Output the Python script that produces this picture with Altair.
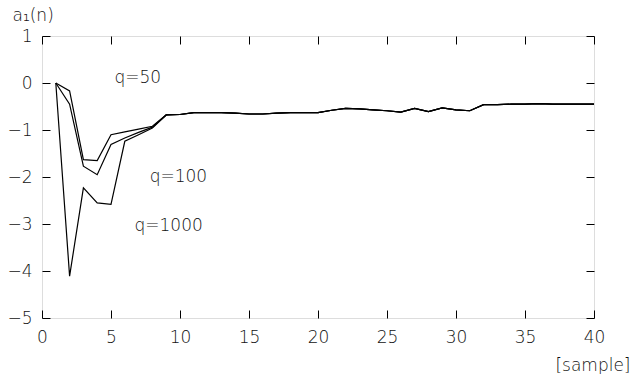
import altair as alt
import pandas as pd

samples = list(range(1, 41))

q50 = [0.00, -0.17, -1.63, -1.65, -1.10, -1.04, -0.98, -0.92,
       -0.68, -0.67, -0.63, -0.63, -0.63, -0.64, -0.66, -0.66, -0.64, -0.63, -0.63, -0.63,
       -0.58, -0.54, -0.55, -0.57, -0.59, -0.62, -0.54, -0.61, -0.53, -0.57,
       -0.59, -0.46, -0.46, -0.45, -0.45, -0.44, -0.45, -0.45, -0.45, -0.45]
q100 = [0.00, -0.45, -1.77, -1.95, -1.31, -1.17, -1.05, -0.94,
        -0.68, -0.67, -0.63, -0.63, -0.63, -0.64, -0.66, -0.66, -0.64, -0.63, -0.63, -0.63,
        -0.58, -0.54, -0.55, -0.57, -0.59, -0.62, -0.54, -0.61, -0.53, -0.57,
        -0.59, -0.46, -0.46, -0.45, -0.45, -0.44, -0.45, -0.45, -0.45, -0.45]
q1000 = [0.00, -4.11, -2.23, -2.55, -2.58, -1.24, -1.10, -0.96,
         -0.68, -0.67, -0.63, -0.63, -0.63, -0.64, -0.66, -0.66, -0.64, -0.63, -0.63, -0.63,
         -0.58, -0.54, -0.55, -0.57, -0.59, -0.62, -0.54, -0.61, -0.53, -0.57,
         -0.59, -0.46, -0.46, -0.45, -0.45, -0.44, -0.45, -0.45, -0.45, -0.45]

x_ticks = [0, 5, 10, 15, 20, 25, 30, 35, 40]
y_ticks = [-5, -4, -3, -2, -1, 0, 1]

label_texts = ["q=50", "q=100", "q=1000"]
label_x = [5.25, 7.8, 6.7]
label_y = [0.10, -1.99, -3.05]

rows = []
for name, vals in [("q=50", q50), ("q=100", q100), ("q=1000", q1000)]:
    for n, v in zip(samples, vals):
        rows.append({"n": n, "a": v, "q": name})
df = pd.DataFrame(rows)
labels = pd.DataFrame({"t": label_texts, "n": label_x, "a": label_y})

FONT = "DejaVu Sans"
FW = 200
W, H = 552, 282

xscale = alt.Scale(domain=[0, 40], nice=False, zero=False)
yscale = alt.Scale(domain=[-5, 1], nice=False, zero=False)

xaxis = alt.Axis(
    values=x_ticks, title="[sample]", domain=False, ticks=False,
    labelFontSize=17, labelFont=FONT, labelFontWeight=FW, labelColor="#111", labelPadding=11,
    labelFlush=False,
    grid=True, gridColor="black", gridOpacity=1, gridWidth=1,
    gridDash=[8, H - 16, 8, 2000],
    titleFont=FONT, titleFontSize=17, titleFontWeight=FW, titleColor="#111",
    titleX=W + 36, titleY=52, titleAlign="right", titleBaseline="alphabetic",
)
yaxis = alt.Axis(
    values=y_ticks, title="a\u2081(n)", domain=False, ticks=False,
    labelFontSize=17, labelFont=FONT, labelFontWeight=FW, labelColor="#111", labelPadding=10,
    labelFlush=False,
    grid=True, gridColor="black", gridOpacity=1, gridWidth=1,
    gridDash=[8, W - 16, 8, 2000],
    titleFont=FONT, titleFontSize=17, titleFontWeight=FW, titleColor="#111",
    titleAngle=0, titleX=-30, titleY=-16, titleAlign="left", titleBaseline="alphabetic",
)

lines = alt.Chart(df).mark_line(color="black", strokeWidth=1.2).encode(
    x=alt.X("n:Q", scale=xscale, axis=xaxis),
    y=alt.Y("a:Q", scale=yscale, axis=yaxis),
    detail="q:N",
)

texts = alt.Chart(labels).mark_text(
    font=FONT, fontSize=17, fontWeight=FW, color="#111", align="left", baseline="middle"
).encode(
    x=alt.X("n:Q", scale=xscale),
    y=alt.Y("a:Q", scale=yscale),
    text="t:N",
)

chart = alt.layer(lines, texts).properties(
    width=W, height=H,
    autosize=alt.AutoSizeParams(type="none"),
    padding={"left": 42, "top": 36, "right": 39, "bottom": 56},
).configure_view(stroke="black", strokeWidth=1).configure(background="white")

chart.save("out.html", embed_options={"renderer": "svg", "actions": False})
